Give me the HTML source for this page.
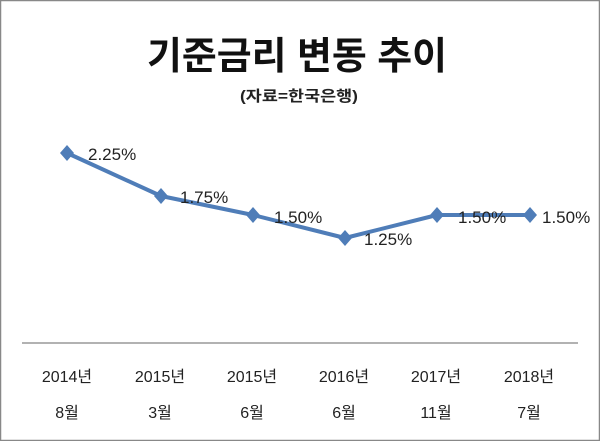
<!DOCTYPE html>
<html><head><meta charset="utf-8"><style>
body{margin:0;background:#fff}
</style></head><body>
<svg width="600" height="441" xmlns="http://www.w3.org/2000/svg" style="display:block">
<rect x="0.5" y="0.5" width="599" height="440" fill="#fff" stroke="#888" stroke-width="1.5"/>
<text x="297" y="69" text-anchor="middle" font-family="'Liberation Sans','Noto Sans CJK KR',sans-serif" font-weight="bold" font-size="38" fill="#111" textLength="300" lengthAdjust="spacingAndGlyphs">기준금리 변동 추이</text>
<text x="299" y="101" text-anchor="middle" font-family="'Liberation Sans','Noto Sans CJK KR',sans-serif" font-weight="bold" font-size="15" fill="#222" textLength="118" lengthAdjust="spacingAndGlyphs">(자료=한국은행)</text>
<line x1="22" y1="343" x2="578" y2="343" stroke="#999" stroke-width="1.5"/>
<polyline points="67,153 161,196 253,215 345,238 437,215 530,215" fill="none" stroke="#4f7db8" stroke-width="4" stroke-linejoin="round"/>
<g fill="#4f7db8">
<path d="M67,145 L74,153 L67,161 L60,153Z"/>
<path d="M161,188 L168,196 L161,204 L154,196Z"/>
<path d="M253,207 L260,215 L253,223 L246,215Z"/>
<path d="M345,230 L352,238 L345,246 L338,238Z"/>
<path d="M437,207 L444,215 L437,223 L430,215Z"/>
<path d="M530,207 L537,215 L530,223 L523,215Z"/>
</g>
<g font-family="'Liberation Sans','Noto Sans CJK KR',sans-serif" font-size="17" fill="#222">
<text x="88" y="160">2.25%</text>
<text x="180" y="203">1.75%</text>
<text x="274" y="223">1.50%</text>
<text x="364" y="245">1.25%</text>
<text x="458" y="223">1.50%</text>
<text x="542" y="223">1.50%</text>
</g>
<g font-family="'Liberation Sans','Noto Sans CJK KR',sans-serif" font-size="16" fill="#222" text-anchor="middle">
<text x="67" y="382">2014년</text><text x="67" y="418">8월</text>
<text x="160" y="382">2015년</text><text x="160" y="418">3월</text>
<text x="252" y="382">2015년</text><text x="252" y="418">6월</text>
<text x="344" y="382">2016년</text><text x="344" y="418">6월</text>
<text x="436" y="382">2017년</text><text x="436" y="418">11월</text>
<text x="529" y="382">2018년</text><text x="529" y="418">7월</text>
</g>
</svg>
</body></html>
